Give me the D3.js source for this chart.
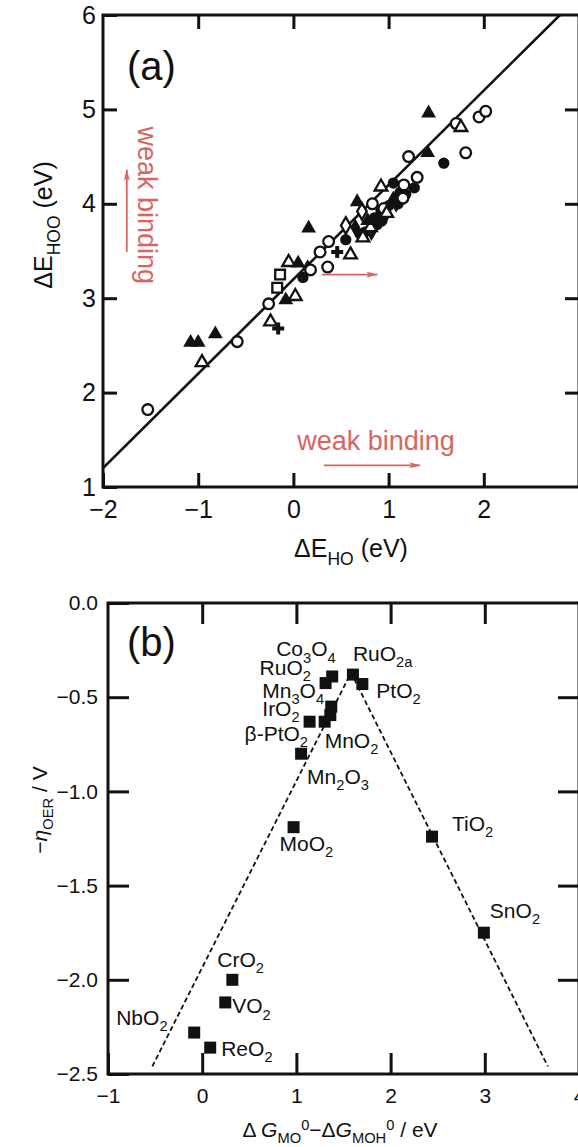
<!DOCTYPE html>
<html>
<head>
<meta charset="utf-8">
<script src="https://cdn.jsdelivr.net/npm/d3@7"></script>
<style>
  body { margin: 0; background: #fff; }
  svg { display: block; font-family: "Liberation Sans", Arial, sans-serif; }
</style>
</head>
<body>
<svg id="chart" width="578" height="1147"></svg>
<script>
// ---- panel (a): [dE_HO, dE_HOO] in eV, one list per marker style
const filledTriangles = [[1.42,4.96],[1.41,4.54],[0.67,4.02],[0.16,3.74],[0.05,3.37],[-0.08,2.98],
  [-1.08,2.53],[-1.0,2.53],[-0.82,2.62],[0.78,3.82],[1.05,4.05]];
const openTriangles = [[1.76,4.81],[0.92,4.18],[0.60,3.46],[-0.05,3.38],[0.02,3.02],[-0.24,2.75],
  [-0.96,2.32],[0.73,3.64],[0.81,3.75],[0.98,3.90]];
const openCircles = [[1.71,4.85],[1.95,4.92],[2.02,4.98],[1.21,4.50],[1.81,4.54],[1.16,4.20],[1.30,4.28],
  [0.83,4.00],[0.37,3.60],[0.28,3.49],[0.36,3.33],[0.18,3.30],[-0.26,2.94],[-0.59,2.54],[-1.53,1.82],
  [1.15,4.06],[0.95,3.95]];
const filledCircles = [[1.58,4.43],[1.05,4.22],[1.27,4.17],[0.10,3.22],[0.75,3.70],[0.85,3.85],[0.93,3.82],
  [1.00,3.98],[1.10,4.00],[0.55,3.62],[0.92,3.92],[1.12,4.12],[0.70,3.68],[0.88,3.78],[1.18,4.10]];
const openSquares = [[-0.14,3.25],[-0.17,3.11]];
const openDiamonds = [[0.55,3.77],[0.72,3.92]];
const filledDiamonds = [[0.15,3.32],[0.65,3.75],[0.95,3.85],[1.08,4.00],[0.82,3.70]];
const crosses = [[0.46,3.49],[-0.16,2.68]];
const fitLine = [[-2, 1.2], [2.8, 6.0]];   // dE_HOO = dE_HO + 3.2
const xTicksA = [-2, -1, 0, 1, 2];
const yTicksA = [1, 2, 3, 4, 5, 6];

// ---- panel (b): volcano, [dG_MO - dG_MOH, -eta_OER]
const oxides = ["RuO2a","PtO2","Co3O4","RuO2","Mn3O4","IrO2","β-PtO2","MnO2","Mn2O3","MoO2",
  "TiO2","SnO2","CrO2","VO2","NbO2","ReO2"];
const dG = [1.60, 1.70, 1.38, 1.31, 1.37, 1.36, 1.14, 1.30, 1.05, 0.97, 2.44, 2.99, 0.32, 0.245, -0.085, 0.085];
const eta = [-0.38, -0.43, -0.39, -0.425, -0.55, -0.595, -0.63, -0.63, -0.80, -1.19, -1.24, -1.75, -2.00, -2.12, -2.28, -2.36];
const volcano = [[-0.53,-2.46],[1.58,-0.37],[3.67,-2.46]];
const xTicksB = [-1, 0, 1, 2, 3, 4];
const yTicksB = [0, -0.5, -1.0, -1.5, -2.0, -2.5];

// label placement (pixels from the marker to the label baseline start)
const labelOffsets = {
  "RuO2a":[0,-14], "PtO2":[14,14], "Co3O4":[-56,-20], "RuO2":[-66,-8], "Mn3O4":[-69,-9],
  "IrO2":[-68,1], "β-PtO2":[-65,19], "MnO2":[0,26], "Mn2O3":[6,30], "MoO2":[-14,24],
  "TiO2":[20,-6], "SnO2":[6,-15], "CrO2":[-15,-13], "VO2":[7,11], "NbO2":[-78,-8], "ReO2":[11,8]
};

const svg = d3.select("#chart");
const ink = "#111";
const red = "#d9665e";

// writes a list of pieces (normal / sub / sup / italic) as tspans
function rich(text, parts, fs) {
  let shift = 0;
  parts.forEach(p => {
    const target = p.sub ? fs * 0.3 : p.sup ? -fs * 0.35 : 0;
    const ts = text.append("tspan")
      .attr("dy", target - shift)
      .attr("font-size", (p.sub || p.sup) ? fs * 0.7 : fs)
      .text(p.t);
    if (p.it) ts.attr("font-style", "italic");
    shift = target;
  });
}
function formula(name) {
  return name.split(/(\d+a?)/).filter(s => s).map(s => ({ t: s, sub: /^\d/.test(s) }));
}

// ================= panel (a)
const xa = d3.scaleLinear().domain([-2, 3]).range([103, 579]);
const ya = d3.scaleLinear().domain([1, 6]).range([487, 15]);
const ga = svg.append("g");
const intFmt = d3.format("d");

ga.append("g").attr("transform", "translate(0,487)")
  .call(d3.axisBottom(xa).tickValues(xTicksA).tickFormat(intFmt).tickSizeInner(-14).tickSizeOuter(0).tickPadding(13));
ga.append("g").attr("transform", "translate(0,15)")
  .call(d3.axisTop(xa).tickValues(xTicksA.slice(1)).tickSizeInner(-14).tickSizeOuter(0).tickFormat(""));
ga.append("g").attr("transform", "translate(103,0)")
  .call(d3.axisLeft(ya).tickValues(yTicksA).tickFormat(intFmt).tickSizeInner(-14).tickSizeOuter(0).tickPadding(7));
ga.append("g").attr("transform", "translate(579,0)")
  .call(d3.axisRight(ya).tickValues(yTicksA.slice(1, -1)).tickSizeInner(-14).tickSizeOuter(0).tickFormat(""));

ga.append("clipPath").attr("id", "clipA").append("rect")
  .attr("x", 103).attr("y", 15).attr("width", 476).attr("height", 472);

ga.append("path").datum(fitLine)
  .attr("clip-path", "url(#clipA)")
  .attr("d", d3.line().x(d => xa(d[0])).y(d => ya(d[1])))
  .attr("stroke", ink).attr("stroke-width", 2.6).attr("fill", "none");

const markerSets = [
  { data: filledCircles, type: d3.symbolCircle, size: 100, fill: ink, stroke: "none" },
  { data: filledDiamonds, type: d3.symbolDiamond, size: 90, fill: ink, stroke: "none" },
  { data: openCircles, type: d3.symbolCircle, size: 90, fill: "#fff", stroke: ink },
  { data: openTriangles, type: d3.symbolTriangle, size: 70, fill: "#fff", stroke: ink },
  { data: openSquares, type: d3.symbolSquare, size: 95, fill: "#fff", stroke: ink },
  { data: openDiamonds, type: d3.symbolDiamond, size: 80, fill: "#fff", stroke: ink },
  { data: crosses, type: d3.symbolCross, size: 80, fill: ink, stroke: "none" },
  { data: filledTriangles, type: d3.symbolTriangle, size: 95, fill: ink, stroke: "none" }
];
markerSets.forEach(m => {
  ga.append("g").selectAll("path").data(m.data).join("path")
    .attr("transform", d => `translate(${xa(d[0])},${ya(d[1])})`)
    .attr("d", d3.symbol().type(m.type).size(m.size))
    .attr("fill", m.fill).attr("stroke", m.stroke).attr("stroke-width", 2.3);
});

// red annotations
const defs = svg.append("defs");
defs.append("marker").attr("id", "head").attr("viewBox", "0 0 12 6")
  .attr("refX", 11).attr("refY", 3).attr("markerWidth", 12).attr("markerHeight", 6)
  .attr("markerUnits", "userSpaceOnUse").attr("orient", "auto")
  .append("path").attr("d", "M0,0 L12,3 L0,6 L3,3 Z").attr("fill", red);

ga.append("line")
  .attr("x1", xa(-1.75)).attr("y1", ya(3.49)).attr("x2", xa(-1.75)).attr("y2", ya(4.36))
  .attr("stroke", red).attr("stroke-width", 1.8).attr("marker-end", "url(#head)");
ga.append("text")
  .attr("transform", `translate(${xa(-1.63)},${ya(4.82)}) rotate(90)`)
  .attr("font-size", 27).attr("fill", red).text("weak binding");
ga.append("line")
  .attr("x1", xa(0.32)).attr("y1", ya(1.23)).attr("x2", xa(1.33)).attr("y2", ya(1.23))
  .attr("stroke", red).attr("stroke-width", 1.8).attr("marker-end", "url(#head)");
ga.append("text")
  .attr("x", xa(0.04)).attr("y", ya(1.39))
  .attr("font-size", 27).attr("fill", red).text("weak binding");
ga.append("line")
  .attr("x1", xa(0.30)).attr("y1", ya(3.25)).attr("x2", xa(0.88)).attr("y2", ya(3.25))
  .attr("stroke", red).attr("stroke-width", 1.8).attr("marker-end", "url(#head)");

ga.append("rect").attr("x", 103).attr("y", 15).attr("width", 476).attr("height", 472)
  .attr("fill", "none").attr("stroke", ink).attr("stroke-width", 3);

ga.append("text").attr("x", 127).attr("y", 80).attr("font-size", 40).attr("fill", ink).text("(a)");

const xla = ga.append("text").attr("x", 351).attr("y", 557)
  .attr("text-anchor", "middle").attr("fill", ink);
rich(xla, [{ t: "ΔE" }, { t: "HO", sub: true }, { t: " (eV)" }], 25);
const yla = ga.append("text").attr("transform", "translate(52,225) rotate(-90)")
  .attr("text-anchor", "middle").attr("fill", ink);
rich(yla, [{ t: "ΔE" }, { t: "HOO", sub: true }, { t: " (eV)" }], 25);

// ================= panel (b)
const xb = d3.scaleLinear().domain([-1, 4]).range([108, 579]);
const yb = d3.scaleLinear().domain([-2.5, 0]).range([1074, 603]);
const gb = svg.append("g");

gb.append("g").attr("transform", "translate(0,1074)")
  .call(d3.axisBottom(xb).tickValues(xTicksB).tickFormat(intFmt).tickSizeInner(-21).tickSizeOuter(0).tickPadding(14));
gb.append("g").attr("transform", "translate(0,603)")
  .call(d3.axisTop(xb).tickValues(xTicksB.slice(1, -1)).tickSizeInner(-21).tickSizeOuter(0).tickFormat(""));
gb.append("g").attr("transform", "translate(108,0)")
  .call(d3.axisLeft(yb).tickValues(yTicksB).tickSizeInner(-21).tickSizeOuter(0).tickPadding(10).tickFormat(d3.format(".1f")));
gb.append("g").attr("transform", "translate(579,0)")
  .call(d3.axisRight(yb).tickValues(yTicksB.slice(1, -1)).tickSizeInner(-21).tickSizeOuter(0).tickFormat(""));

gb.append("path").datum(volcano)
  .attr("d", d3.line().x(d => xb(d[0])).y(d => yb(d[1])))
  .attr("stroke", ink).attr("stroke-width", 1.8).attr("stroke-dasharray", "5,3").attr("fill", "none");

gb.append("g").selectAll("rect").data(oxides).join("rect")
  .attr("x", (d, i) => xb(dG[i]) - 6).attr("y", (d, i) => yb(eta[i]) - 6)
  .attr("width", 12).attr("height", 12).attr("fill", ink);

gb.append("g").selectAll("text").data(oxides).join("text")
  .attr("x", (d, i) => xb(dG[i]) + labelOffsets[d][0])
  .attr("y", (d, i) => yb(eta[i]) + labelOffsets[d][1])
  .attr("fill", ink)
  .each(function (d) { rich(d3.select(this), formula(d), 21); });

gb.append("rect").attr("x", 108).attr("y", 603).attr("width", 471).attr("height", 471)
  .attr("fill", "none").attr("stroke", ink).attr("stroke-width", 3);

gb.append("text").attr("x", 127).attr("y", 656).attr("font-size", 40).attr("fill", ink).text("(b)");

const xlb = gb.append("text").attr("x", 340).attr("y", 1137)
  .attr("text-anchor", "middle").attr("fill", ink);
rich(xlb, [{ t: "Δ " }, { t: "G", it: true }, { t: "MO", sub: true }, { t: "0", sup: true },
  { t: "−Δ" }, { t: "G", it: true }, { t: "MOH", sub: true }, { t: "0", sup: true }, { t: " / eV" }], 21);
const ylb = gb.append("text").attr("transform", "translate(47,810) rotate(-90)")
  .attr("text-anchor", "middle").attr("fill", ink);
rich(ylb, [{ t: "−" }, { t: "η", it: true }, { t: "OER", sub: true }, { t: " / V" }], 21);

// shared axis styling
svg.selectAll(".tick line").attr("stroke", ink).attr("stroke-width", 3);
svg.selectAll(".domain").remove();
ga.selectAll(".tick text").attr("font-size", 25).attr("fill", ink);
gb.selectAll(".tick text").attr("font-size", 21).attr("fill", ink);
svg.selectAll("g").attr("font-family", null);
</script>
</body>
</html>
